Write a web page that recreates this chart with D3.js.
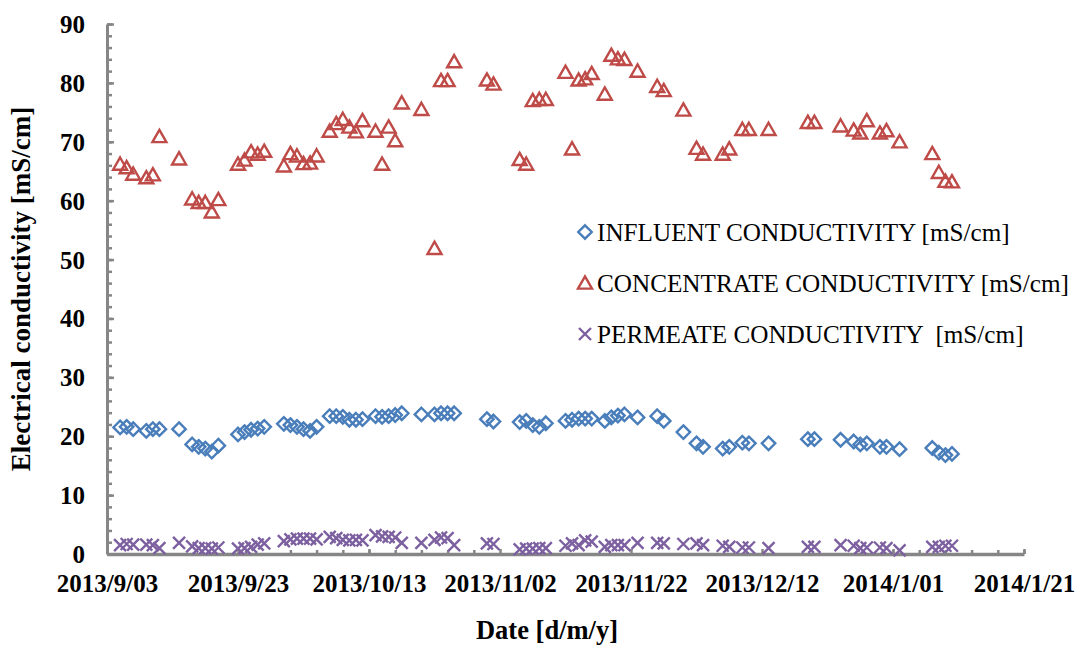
<!DOCTYPE html>
<html>
<head>
<meta charset="utf-8">
<script src="https://cdn.jsdelivr.net/npm/d3@7"></script>
<style>
  body { margin: 0; background: #fff; }
  svg { display: block; }
  text { font-family: 'Liberation Serif', 'Times New Roman', serif; }
</style>
</head>
<body>
<div id="chart"></div>
<script>
// sampling dates
const dates = ['2013-09-05', '2013-09-06', '2013-09-07', '2013-09-09', '2013-09-10', '2013-09-11', '2013-09-14', '2013-09-16', '2013-09-17', '2013-09-18', '2013-09-19', '2013-09-20', '2013-09-23', '2013-09-24', '2013-09-25', '2013-09-26', '2013-09-27', '2013-09-30',
  '2013-10-01', '2013-10-02', '2013-10-03', '2013-10-04', '2013-10-05', '2013-10-07', '2013-10-08', '2013-10-09', '2013-10-10', '2013-10-11', '2013-10-12', '2013-10-14', '2013-10-15', '2013-10-16', '2013-10-17', '2013-10-18', '2013-10-21', '2013-10-23', '2013-10-24', '2013-10-25', '2013-10-26', '2013-10-31',
  '2013-11-01', '2013-11-05', '2013-11-06', '2013-11-07', '2013-11-08', '2013-11-09', '2013-11-12', '2013-11-13', '2013-11-14', '2013-11-15', '2013-11-16', '2013-11-18', '2013-11-19', '2013-11-20', '2013-11-21', '2013-11-23', '2013-11-26', '2013-11-27', '2013-11-30',
  '2013-12-02', '2013-12-03', '2013-12-06', '2013-12-07', '2013-12-09', '2013-12-10', '2013-12-13', '2013-12-19', '2013-12-20', '2013-12-24', '2013-12-26', '2013-12-27', '2013-12-28', '2013-12-30', '2013-12-31',
  '2014-01-02', '2014-01-07', '2014-01-08', '2014-01-09', '2014-01-10']

const influent = [21.5, 21.6, 21.2, 20.9, 21.2, 21.2, 21.2, 18.6, 18.2, 17.9, 17.4, 18.4, 20.3, 20.7, 21.1, 21.3, 21.6, 22.1,
  21.9, 21.6, 21.2, 20.9, 21.6, 23.4, 23.4, 23.3, 22.8, 22.8, 22.9, 23.4, 23.3, 23.4, 23.6, 23.9, 23.7, 23.7, 23.9, 23.9, 23.9, 22.9,
  22.5, 22.4, 22.6, 21.9, 21.6, 22.2, 22.6, 22.8, 23.0, 23.0, 23.0, 22.6, 23.2, 23.5, 23.7, 23.2, 23.4, 22.6, 20.7,
  18.8, 18.2, 17.9, 18.2, 18.9, 18.8, 18.8, 19.5, 19.5, 19.4, 19.1, 18.6, 18.8, 18.2, 18.2,
  17.8, 18.0, 17.2, 16.8, 17.0]

const concentrate = [66.2, 65.6, 64.5, 63.9, 64.4, 70.9, 67.1, 60.3, 59.7, 59.7, 58.1, 60.2, 66.2, 66.9, 68.3, 67.9, 68.4, 65.9,
  68.0, 67.6, 66.3, 66.4, 67.6, 71.8, 73.1, 73.8, 72.5, 71.7, 73.6, 71.8, 66.2, 72.5, 70.2, 76.6, 75.5, 51.9, 80.4, 80.4, 83.6, 80.5,
  79.8, 67.0, 66.2, 77.0, 77.2, 77.2, 81.8, 68.8, 80.5, 80.7, 81.6, 78.1, 84.7, 84.1, 84.0, 82.0, 79.4, 78.7, 75.4,
  68.9, 67.9, 67.9, 68.8, 72.1, 72.1, 72.1, 73.3, 73.3, 72.7, 72.0, 71.5, 73.6, 71.5, 71.9,
  70.0, 68.0, 64.8, 63.3, 63.2]

const permeate = [1.5, 1.7, 1.6, 1.6, 1.5, 1.0, 1.9, 1.3, 1.0, 1.0, 0.9, 1.1, 0.9, 1.0, 1.2, 1.6, 1.8, 2.2,
  2.5, 2.6, 2.6, 2.6, 2.5, 2.9, 2.7, 2.4, 2.3, 2.4, 2.3, 3.2, 3.0, 2.9, 2.8, 1.9, 1.9, 2.4, 2.8, 2.7, 1.5, 1.8,
  1.7, 0.8, 0.9, 0.9, 1.0, 1.0, 1.4, 1.8, 1.5, 2.3, 2.1, 1.2, 1.5, 1.5, 1.5, 1.9, 1.9, 1.8, 1.7,
  1.8, 1.5, 1.4, 1.2, 1.1, 1.1, 1.0, 1.2, 1.2, 1.5, 1.4, 1.0, 1.1, 1.1, 1.0,
  0.6, 1.2, 1.2, 1.4, 1.4]

const xTicks = ['2013-09-03', '2013-09-23', '2013-10-13', '2013-11-02', '2013-11-22', '2013-12-12', '2014-01-01', '2014-01-21']
const yTicks = [0, 10, 20, 30, 40, 50, 60, 70, 80, 90]

const seriesNames = ['INFLUENT CONDUCTIVITY [mS/cm]', 'CONCENTRATE CONDUCTIVITY [mS/cm]', 'PERMEATE CONDUCTIVITY  [mS/cm]']
const seriesColors = ['#4a7ebb', '#be4b48', '#7d60a0']

const width = 1076
const height = 646
const margin = { top: 24, right: 52, bottom: 92, left: 107 }

const parse = d3.utcParse('%Y-%m-%d')
const fmt = d3.utcFormat('%Y/%-m/%d')

const svg = d3.select('#chart')
  .append('svg')
  .attr('width', width)
  .attr('height', height)

svg.append('rect').attr('width', width).attr('height', height).attr('fill', '#fff')

const x = d3.scaleUtc()
  .domain([parse(xTicks[0]), parse(xTicks[xTicks.length - 1])])
  .range([margin.left, width - margin.right])

const y = d3.scaleLinear()
  .domain([0, 90])
  .range([height - margin.bottom, margin.top])

// marker shapes
const diamond = {
  draw (ctx, size) {
    const r = Math.sqrt(size) / 2
    ctx.moveTo(0, -r); ctx.lineTo(r, 0); ctx.lineTo(0, r); ctx.lineTo(-r, 0); ctx.closePath()
  }
}
const triangle = {
  draw (ctx, size) {
    const r = Math.sqrt(size) / 2
    ctx.moveTo(0, -r * 0.95); ctx.lineTo(r, r * 0.8); ctx.lineTo(-r, r * 0.8); ctx.closePath()
  }
}
const cross = {
  draw (ctx, size) {
    const r = Math.sqrt(size) / 2
    ctx.moveTo(-r, -r); ctx.lineTo(r, r); ctx.moveTo(-r, r); ctx.lineTo(r, -r)
  }
}
const symbols = [d3.symbol(diamond, 180), d3.symbol(triangle, 196), d3.symbol(cross, 144)]

// axes
const axisColor = '#868686'

const yMinor = svg.append('g')
  .attr('transform', `translate(${margin.left},0)`)
  .call(d3.axisLeft(y).tickValues(d3.range(0, 91, 2)).tickSizeInner(-5).tickSizeOuter(0).tickFormat(''))
yMinor.select('.domain').remove()
yMinor.selectAll('line').attr('stroke', axisColor).attr('stroke-width', 2.5)

const yAxis = svg.append('g')
  .attr('transform', `translate(${margin.left},0)`)
  .call(d3.axisLeft(y).tickValues(yTicks).tickSizeInner(-7).tickSizeOuter(0).tickPadding(22))
yAxis.select('.domain').attr('stroke', axisColor).attr('stroke-width', 3)
yAxis.selectAll('line').attr('stroke', axisColor).attr('stroke-width', 2.5)
yAxis.selectAll('text')
  .style('font-size', '25px')
  .style('font-weight', 'bold')
  .attr('fill', '#000')
  .attr('dy', '0.34em')

const xMinor = svg.append('g')
  .attr('transform', `translate(0,${height - margin.bottom})`)
  .call(d3.axisBottom(x).ticks(d3.utcDay.every(4).filter(d => (d - parse(xTicks[0])) % (4 * 864e5) === 0)).tickSizeInner(-4).tickSizeOuter(0).tickFormat(''))
xMinor.select('.domain').remove()
xMinor.selectAll('line').attr('stroke', axisColor).attr('stroke-width', 2.5)

const xAxis = svg.append('g')
  .attr('transform', `translate(0,${height - margin.bottom})`)
  .call(d3.axisBottom(x).tickValues(xTicks.map(parse)).tickFormat(fmt).tickSizeInner(-5).tickSizeOuter(0))
xAxis.select('.domain').attr('stroke', axisColor).attr('stroke-width', 3.5)
xAxis.selectAll('line').attr('stroke', axisColor).attr('stroke-width', 2.5)
xAxis.selectAll('text')
  .style('font-size', '25px')
  .style('font-weight', 'bold')
  .attr('fill', '#000')
  .attr('y', 38)
  .attr('dy', 0)

// axis titles
svg.append('text')
  .attr('x', 547)
  .attr('y', 639)
  .attr('text-anchor', 'middle')
  .style('font-size', '26.5px')
  .style('font-weight', 'bold')
  .text('Date [d/m/y]')

svg.append('text')
  .attr('transform', `translate(30,${(margin.top + height - margin.bottom) / 2}) rotate(-90)`)
  .attr('text-anchor', 'middle')
  .style('font-size', '27px')
  .style('font-weight', 'bold')
  .text('Electrical conductivity [mS/cm]')

// points
const series = [influent, concentrate, permeate]
series.forEach((vals, i) => {
  svg.append('g')
    .selectAll('path')
    .data(vals)
    .enter()
    .append('path')
    .attr('transform', (d, j) => `translate(${x(parse(dates[j]))},${y(d)})`)
    .attr('d', symbols[i])
    .attr('fill', 'none')
    .attr('stroke', seriesColors[i])
    .attr('stroke-width', 2.4)
})

// legend
const legend = svg.append('g')
  .attr('transform', 'translate(585,232)')

seriesNames.forEach((name, i) => {
  const row = legend.append('g')
    .attr('transform', `translate(0, ${i * 51})`)

  row.append('path')
    .attr('d', symbols[i])
    .attr('fill', 'none')
    .attr('stroke', seriesColors[i])
    .attr('stroke-width', 2.4)

  row.append('text')
    .attr('x', 12)
    .attr('y', 9)
    .style('font-size', '25.2px')
    .style('white-space', 'pre')
    .attr('fill', '#000')
    .text(name)
})
</script>
</body>
</html>
